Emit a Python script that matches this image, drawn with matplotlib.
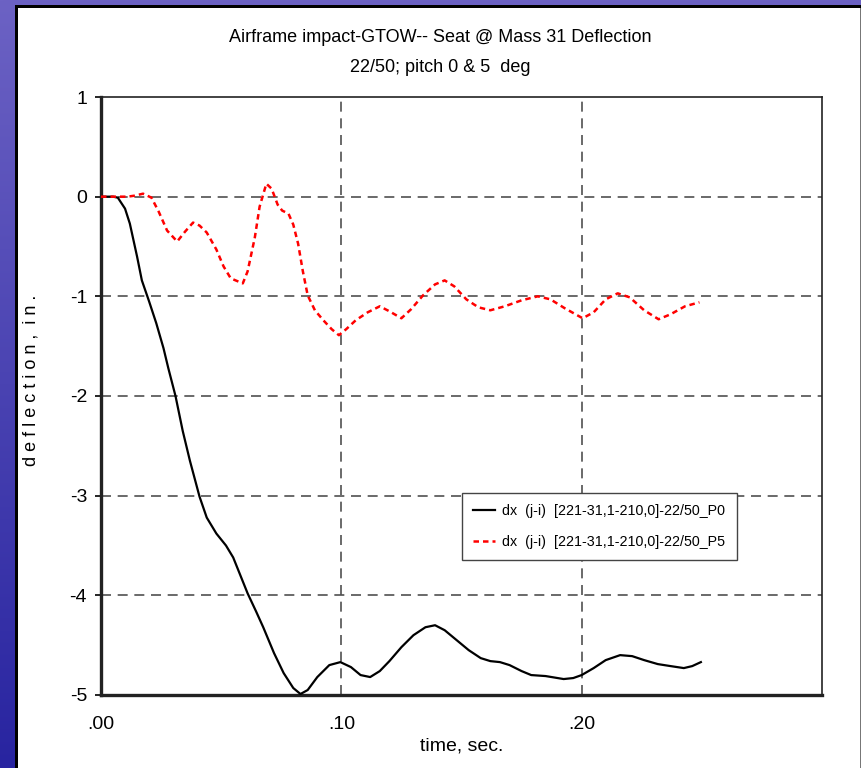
import numpy as np
import matplotlib
matplotlib.use("Agg")
import matplotlib.pyplot as plt
from matplotlib.patches import Rectangle

FONT = ["Liberation Sans Narrow", "Liberation Sans", "DejaVu Sans"]
plt.rcParams["font.family"] = FONT

# Seat deflection, pitch 0 deg (time in s, deflection in in.)
t_p0 = [0.000, 0.005, 0.007, 0.010, 0.012, 0.015, 0.017, 0.020, 0.023, 0.026,
        0.028, 0.031, 0.034, 0.037, 0.041, 0.044, 0.048, 0.052, 0.055, 0.058,
        0.061, 0.0645, 0.0675, 0.072, 0.076, 0.080, 0.083, 0.086, 0.090, 0.095,
        0.0996, 0.104, 0.108, 0.112, 0.116, 0.120, 0.125, 0.130, 0.135, 0.139,
        0.143, 0.148, 0.153, 0.158, 0.162, 0.166, 0.170, 0.175, 0.179, 0.185,
        0.1925, 0.1965, 0.200, 0.205, 0.210, 0.216, 0.221, 0.226, 0.2317, 0.237,
        0.2425, 0.246, 0.2496]
d_p0 = [0.00, 0.00, -0.01, -0.12, -0.27, -0.60, -0.84, -1.05, -1.27, -1.52,
        -1.72, -2.00, -2.35, -2.65, -3.01, -3.22, -3.38, -3.50, -3.62, -3.80,
        -3.98, -4.16, -4.32, -4.58, -4.78, -4.93, -4.99, -4.95, -4.82, -4.70,
        -4.67, -4.72, -4.80, -4.82, -4.76, -4.66, -4.52, -4.40, -4.32, -4.30,
        -4.35, -4.45, -4.55, -4.63, -4.66, -4.67, -4.70, -4.76, -4.80, -4.81,
        -4.84, -4.83, -4.80, -4.73, -4.65, -4.60, -4.61, -4.65, -4.69, -4.71,
        -4.73, -4.71, -4.67]

# Seat deflection, pitch 5 deg
t_p5 = [0.000, 0.008, 0.011, 0.014, 0.0175, 0.021, 0.024, 0.0275, 0.0317, 0.035,
        0.0383, 0.041, 0.044, 0.048, 0.051, 0.054, 0.059, 0.061, 0.064, 0.066,
        0.0688, 0.071, 0.0735, 0.0754, 0.078, 0.080, 0.082, 0.084, 0.086, 0.089,
        0.0925, 0.096, 0.099, 0.102, 0.106, 0.111, 0.116, 0.120, 0.125, 0.129,
        0.134, 0.139, 0.143, 0.147, 0.152, 0.157, 0.162, 0.168, 0.175, 0.1817,
        0.187, 0.193, 0.2004, 0.205, 0.210, 0.215, 0.220, 0.226, 0.232, 0.237,
        0.243, 0.249]
d_p5 = [0.00, 0.00, 0.00, 0.01, 0.03, -0.01, -0.15, -0.34, -0.45, -0.35,
        -0.26, -0.29, -0.36, -0.53, -0.70, -0.82, -0.87, -0.75, -0.41, -0.10,
        0.13, 0.08, -0.08, -0.14, -0.17, -0.28, -0.47, -0.75, -0.99, -1.14,
        -1.24, -1.33, -1.39, -1.33, -1.24, -1.16, -1.10, -1.15, -1.22, -1.13,
        -0.99, -0.88, -0.84, -0.90, -1.03, -1.11, -1.14, -1.10, -1.04, -1.00,
        -1.03, -1.12, -1.22, -1.16, -1.03, -0.97, -1.01, -1.14, -1.23, -1.18,
        -1.10, -1.06]

label_p0 = "dx  (j-i)  [221-31,1-210,0]-22/50_P0"
label_p5 = "dx  (j-i)  [221-31,1-210,0]-22/50_P5"

x_ticks = [0.00, 0.10, 0.20]
x_ticklabels = [".00", ".10", ".20"]
y_ticks = [1, 0, -1, -2, -3, -4, -5]
y_ticklabels = ["1", "0", "-1", "-2", "-3", "-4", "-5"]

W, H = 862, 768
fig = plt.figure(figsize=(W / 100, H / 100), dpi=100)

# slide-style blue backdrop with a white panel and dark drop edge
bg = fig.add_axes([0, 0, 1, 1], zorder=-10)
grad = np.linspace(0, 1, 256)[:, None]
top_c = np.array([108, 98, 196]) / 255
bot_c = np.array([40, 36, 160]) / 255
img = top_c[None, None, :] * (1 - grad[:, :, None]) + bot_c[None, None, :] * grad[:, :, None]
bg.imshow(img, aspect="auto", extent=[0, 1, 0, 1], origin="upper")
bg.set_xlim(0, 1)
bg.set_ylim(0, 1)
bg.axis("off")
bg.add_patch(Rectangle((15 / W, 0), (861 - 15) / W, (H - 5) / H,
                       facecolor="black", edgecolor="none"))
bg.add_patch(Rectangle((18 / W, 0), (860 - 18) / W, (H - 8) / H,
                       facecolor="white", edgecolor="none"))
bg.add_patch(Rectangle((860 / W, 0), 2 / W, (H - 8) / H,
                       facecolor="#777777", edgecolor="none"))

ax = fig.add_axes([101 / W, 1 - 695 / H, (822 - 101) / W, (695 - 97) / H])
ax.plot(t_p0, d_p0, color="black", lw=1.6, label=label_p0, zorder=3)
ax.plot(t_p5, d_p5, color="#ff0000", lw=1.8, ls=(0, (2.2, 1.6)), label=label_p5, zorder=3)

ax.set_xlim(0, 0.30)
ax.set_ylim(-5, 1)
ax.set_xticks(x_ticks)
ax.set_xticklabels(x_ticklabels, fontsize=14)
ax.set_yticks(y_ticks)
ax.set_yticklabels(y_ticklabels, fontsize=14)
ax.tick_params(axis="x", length=0, pad=15)
ax.tick_params(axis="y", length=4, width=1.2, direction="out", pad=6)

for y in [0, -1, -2, -3, -4]:
    ax.axhline(y, color="#505050", lw=1.2, ls=(0, (6, 4)), zorder=1)
for x in [0.10, 0.20]:
    ax.axvline(x, color="#505050", lw=1.2, ls=(0, (6, 4)), zorder=1)

ax.spines["left"].set_linewidth(2.4)
ax.spines["bottom"].set_linewidth(2.4)
ax.spines["top"].set_linewidth(1.2)
ax.spines["right"].set_linewidth(1.2)
for s in ax.spines.values():
    s.set_color("#222222")

leg = ax.legend(loc="upper left", bbox_to_anchor=((462 - 101) / (822 - 101), (695 - 493) / (695 - 97)),
                borderaxespad=0, fontsize=10.3, frameon=True, fancybox=False, framealpha=1,
                edgecolor="#444444", handlelength=1.5, handletextpad=0.5,
                borderpad=0.8, labelspacing=1.15)
leg.get_frame().set_linewidth(1.0)

fig.text(440 / W, 1 - 38 / H, "Airframe impact-GTOW-- Seat @ Mass 31 Deflection",
         ha="center", va="center", fontsize=13)
fig.text(440 / W, 1 - 67 / H, "22/50; pitch 0 & 5  deg",
         ha="center", va="center", fontsize=13)
fig.text(462 / W, 1 - 746 / H, "time, sec.", ha="center", va="center", fontsize=14)
fig.text(31 / W, 1 - 380 / H, "d e f l e c t i o n ,  i n .", ha="center", va="center",
         rotation=90, fontsize=13)

fig.savefig("out.png", dpi=100)
